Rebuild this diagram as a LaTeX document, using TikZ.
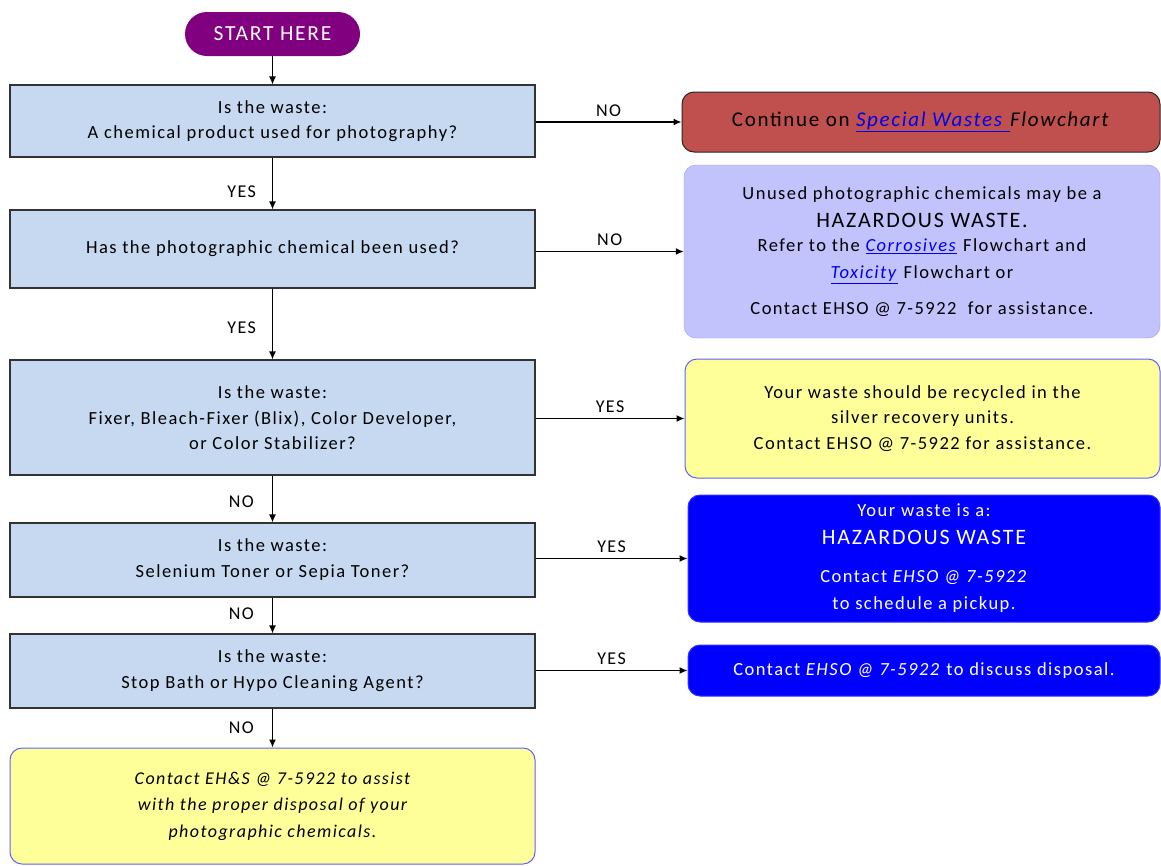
\documentclass[tikz,border=0pt]{standalone}
\usepackage{fontspec}
\setmainfont{Carlito}[LetterSpace=8]
\usetikzlibrary{arrows.meta}
\definecolor{qfill}{HTML}{C6D9F1}
\definecolor{startpurple}{HTML}{800080}
\definecolor{redbox}{HTML}{C0504D}
\definecolor{lavender}{HTML}{C2C2FC}
\definecolor{paleyellow}{HTML}{FFFF99}
\definecolor{yellowedge}{HTML}{6060FF}
\definecolor{deepblue}{HTML}{0000FF}
\definecolor{linkblue}{HTML}{0000EE}
\newcommand{\lnk}[1]{\textcolor{linkblue}{\underline{\textit{#1}}}}
\tikzset{
  base/.style={font=\fontsize{18.5}{25}\selectfont, align=center, inner sep=0pt},
  question/.style={base, draw=black!80, line width=1.2pt, fill=qfill, minimum width=525pt},
  outcome/.style={base, rounded corners=12pt, line width=1pt},
  arr/.style={line width=1.3pt, -{Latex[length=8pt,width=7pt]}},
  lbl/.style={font=\fontsize{18}{20}\selectfont, inner sep=2pt},
}
\begin{document}
\begin{tikzpicture}[x=1pt,y=-1pt]
\useasboundingbox (0,0) rectangle (1161,865);
\clip (0,0) rectangle (1161,865);

% start terminal
\node[base, fill=startpurple, text=white, rounded corners=22pt, minimum width=175pt, minimum height=44pt,
      font=\fontsize{21.5}{25}\selectfont] (start) at (272.5,34) {START HERE};

% question column
\node[question, minimum height=72pt] (q1) at (272.5,121)
  {Is the waste:\\A chemical product used for photography?};
\node[question, minimum height=78pt] (q2) at (272.5,249)
  {Has the photographic chemical been used?};
\node[question, minimum height=115pt] (q3) at (272.5,417.5)
  {Is the waste:\\[1pt]Fixer, Bleach-Fixer (Blix), Color Developer,\\or Color Stabilizer?};
\node[question, minimum height=74pt] (q4) at (272.5,560)
  {Is the waste:\\[1pt]Selenium Toner or Sepia Toner?};
\node[question, minimum height=74pt] (q5) at (272.5,671)
  {Is the waste:\\[1pt]Stop Bath or Hypo Cleaning Agent?};
\node[outcome, draw=yellowedge, fill=paleyellow, minimum width=525pt, minimum height=116pt,
      font=\fontsize{18}{26.5}\selectfont\itshape] (final) at (272.5,806)
  {Contact EH\&S @ 7-5922 to assist\\with the proper disposal of your\\photographic chemicals.};

% outcome column
\node[outcome, draw=black!85, fill=redbox, minimum width=478pt, minimum height=60pt,
      font=\fontsize{21}{24}\selectfont] (special) at (921,122)
  {Continue on \lnk{Special Wastes }\textit{Flowchart}};
\node[outcome, draw=lavender!80!blue, line width=0.4pt, fill=lavender, minimum width=476pt, minimum height=173pt] (unused) at (922,251.5)
  {Unused photographic chemicals may be a\\[3pt]
   {\fontsize{22}{25}\selectfont HAZARDOUS WASTE.}\\[-1pt]
   Refer to the \lnk{Corrosives} Flowchart and\\[2pt]
   \lnk{Toxicity} Flowchart or\\[11pt]
   Contact EHSO @ 7-5922\ \ for assistance.};
\node[outcome, draw=yellowedge, fill=paleyellow, minimum width=475pt, minimum height=119pt] (silver) at (922.5,418.5)
  {Your waste should be recycled in the\\silver recovery units.\\[1pt]Contact EHSO @ 7-5922 for assistance.};
\node[outcome, draw=deepblue!80!white, fill=deepblue, text=white, minimum width=472pt, minimum height=127pt] (haz) at (924,558.5)
  {Your waste is a:\\[3pt]
   {\fontsize{22}{25}\selectfont HAZARDOUS WASTE}\\[13pt]
   Contact \textit{EHSO @ 7-5922}\\[2pt]
   to schedule a pickup.};
\node[outcome, draw=deepblue!80!white, fill=deepblue, text=white, minimum width=472pt, minimum height=51pt] (discuss) at (924,670.5)
  {Contact \textit{EHSO @ 7-5922} to discuss disposal.};

% vertical flow
\draw[arr] (start) -- (q1);
\draw[arr] (q1) -- node[lbl, left, pos=0.65, xshift=-14pt] {YES} (q2);
\draw[arr] (q2) -- node[lbl, left, pos=0.55, xshift=-14pt] {YES} (q3);
\draw[arr] (q3) -- node[lbl, left, pos=0.55, xshift=-16pt] {NO} (q4);
\draw[arr] (q4) -- node[lbl, left, pos=0.45, xshift=-16pt] {NO} (q5);
\draw[arr] (q5) -- node[lbl, left, pos=0.5, xshift=-16pt] {NO} (final);

% horizontal flow
\draw[arr] (q1.east |- special) -- node[lbl, above, yshift=3pt] {NO} (special.west);
\draw[arr] (q2.east |- unused) -- node[lbl, above, yshift=3pt] {NO} (unused.west);
\draw[arr] (q3.east |- silver) -- node[lbl, above, yshift=3pt] {YES} (silver.west);
\draw[arr] (q4.east |- haz) -- node[lbl, above, yshift=3pt] {YES} (haz.west);
\draw[arr] (q5.east |- discuss) -- node[lbl, above, yshift=3pt] {YES} (discuss.west);
\end{tikzpicture}
\end{document}
